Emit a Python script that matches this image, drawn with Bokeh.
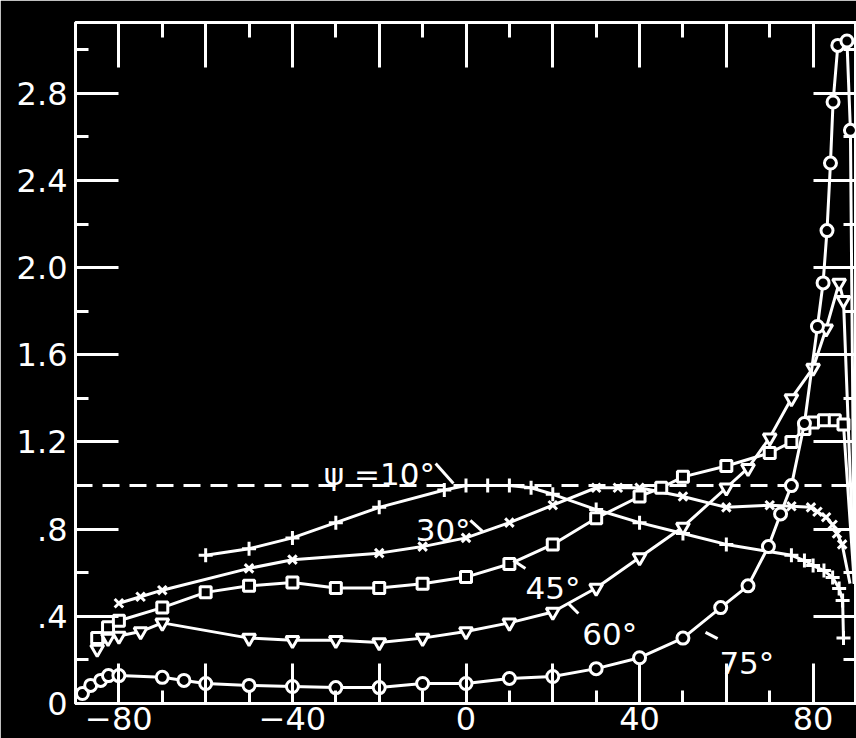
from bokeh.plotting import figure
from bokeh.models import LinearAxis, FixedTicker, Range1d, Label
from bokeh.embed import file_html
from bokeh.resources import INLINE

FONT = "DejaVu Sans"
INK = "white"

# Relative intensity versus angle (degrees) for each value of psi
ang_10 = [-60, -50, -40, -30, -20, -5, 0, 5, 10, 15, 20, 30, 40, 50, 60, 75, 78, 80, 82.5, 84.5, 86, 86.8, 87]
val_10 = [0.68, 0.71, 0.76, 0.83, 0.90, 0.98, 1.0, 1.0, 1.0, 0.99, 0.96, 0.89, 0.83, 0.78, 0.73, 0.68, 0.656, 0.633, 0.61, 0.578, 0.528, 0.473, 0.30]

ang_30 = [-80, -75, -70, -50, -40, -20, -10, 0, 10, 20, 30, 35, 40, 50, 60, 70, 75, 79.5, 81, 83, 84.5, 85.5, 86.7, 88.5]
val_30 = [0.46, 0.49, 0.52, 0.62, 0.66, 0.69, 0.72, 0.76, 0.83, 0.91, 0.99, 0.99, 0.99, 0.95, 0.90, 0.91, 0.905, 0.90, 0.88, 0.855, 0.82, 0.78, 0.73, 0.55]

ang_45 = [-85, -82.5, -80, -70, -60, -50, -40, -30, -20, -10, 0, 10, 20, 30, 40, 45, 50, 60, 70, 75, 78, 80, 82.5, 85, 87, 89.5]
val_45 = [0.30, 0.35, 0.38, 0.44, 0.51, 0.54, 0.555, 0.53, 0.53, 0.55, 0.58, 0.64, 0.73, 0.85, 0.95, 0.99, 1.04, 1.09, 1.15, 1.20, 1.26, 1.29, 1.30, 1.30, 1.28, 0.55]

ang_60 = [-85, -82.5, -80, -75, -70, -50, -40, -30, -20, -10, 0, 10, 20, 30, 40, 50, 60, 65, 70, 75, 80, 83, 86, 87, 89.5]
val_60 = [0.25, 0.30, 0.31, 0.33, 0.37, 0.30, 0.29, 0.29, 0.28, 0.30, 0.33, 0.37, 0.42, 0.53, 0.67, 0.81, 0.99, 1.08, 1.22, 1.40, 1.54, 1.72, 1.93, 1.85, 0.55]

ang_75 = [-88.4, -86.5, -84.2, -82.4, -80, -70, -65, -60, -50, -40, -30, -20, -10, 0, 10, 20, 30, 40, 50, 58.7, 65, 69.7, 72.5, 75, 78, 81, 82.3, 83.2, 84, 84.6, 85.7, 87.8, 88.6, 89.5]
val_75 = [0.046, 0.083, 0.106, 0.128, 0.128, 0.12, 0.106, 0.092, 0.083, 0.078, 0.073, 0.073, 0.092, 0.092, 0.115, 0.124, 0.16, 0.21, 0.30, 0.44, 0.54, 0.72, 0.87, 1.00, 1.285, 1.73, 1.93, 2.17, 2.48, 2.76, 3.02, 3.04, 2.63, 0.55]

y_major = [0, 0.4, 0.8, 1.2, 1.6, 2.0, 2.4, 2.8]
y_minor = [0.2, 0.6, 1.0, 1.4, 1.8, 2.2, 2.6, 3.0]
y_labels = ["0", ".4", ".8", "1.2", "1.6", "2.0", "2.4", "2.8"]
x_major = [-80, -60, -40, -20, 0, 20, 40, 60, 80]
x_minor = [-70, -50, -30, -10, 10, 30, 50, 70]
x_labels = {-80: "\u221280", -60: "", -40: "\u221240", -20: "", 0: "0", 20: "", 40: "40", 60: "", 80: "80"}
reference_level = 1.0

p = figure(width=856, height=738, x_range=Range1d(-90, 90), y_range=Range1d(0, 3.125),
           output_backend="svg", toolbar_location=None,
           min_border_left=75, min_border_right=0, min_border_top=22, min_border_bottom=35,
           background_fill_color="black", border_fill_color="black",
           outline_line_color=INK, outline_line_width=3,
           x_axis_location=None, y_axis_location=None)
p.grid.visible = False

def style_axis(ax, ticker, long_tick, short_tick, labels=None, font_px=0):
    ax.ticker = ticker
    ax.axis_line_color = INK
    ax.axis_line_width = 3
    ax.major_tick_line_color = INK
    ax.minor_tick_line_color = INK
    ax.major_tick_line_width = 3
    ax.minor_tick_line_width = 3
    ax.major_tick_in = long_tick
    ax.major_tick_out = 0
    ax.minor_tick_in = short_tick
    ax.minor_tick_out = 0
    ax.major_label_text_color = INK
    ax.major_label_text_font = FONT
    ax.major_label_text_font_size = f"{font_px}px"
    if labels is not None:
        ax.major_label_overrides = labels
    return ax

yt = FixedTicker(ticks=y_major, minor_ticks=y_minor)
xt = FixedTicker(ticks=x_major, minor_ticks=x_minor)

left = style_axis(LinearAxis(), yt, 43, 13, {v: s for v, s in zip(y_major, y_labels)}, 32)
left.major_label_standoff = 8
p.add_layout(left, "left")

bottom = style_axis(LinearAxis(), xt, 40, 13, x_labels, 32)
bottom.major_label_standoff = 3
p.add_layout(bottom, "below")

top = style_axis(LinearAxis(), FixedTicker(ticks=x_major, minor_ticks=x_minor), 45, 15, None, 0)
top.major_label_standoff = 0
top.major_label_overrides = {v: "" for v in x_major}
p.add_layout(top, "above")

right = style_axis(LinearAxis(), FixedTicker(ticks=y_major, minor_ticks=y_minor), 43, 13, None, 0)
right.major_label_standoff = 0
right.major_label_overrides = {v: "" for v in y_major}
p.add_layout(right, "right")

# reference level
p.line([-90, 90], [reference_level, reference_level], line_color=INK, line_width=3, line_dash="17 10")

LW = 3
p.line(ang_10, val_10, line_color=INK, line_width=LW)
p.scatter(ang_10, val_10, marker="cross", size=14, line_color=INK, line_width=3)

p.line(ang_30, val_30, line_color=INK, line_width=LW)
p.scatter(ang_30[:-1], val_30[:-1], marker="x", size=12, line_color=INK, line_width=3)

p.line(ang_45, val_45, line_color=INK, line_width=LW)
p.scatter(ang_45[:-1], val_45[:-1], marker="square", size=11, fill_color="black", line_color=INK, line_width=3)

p.line(ang_60, val_60, line_color=INK, line_width=LW)
p.scatter(ang_60[:-1], val_60[:-1], marker="inverted_triangle", size=13, fill_color="black", line_color=INK, line_width=3)

p.line(ang_75, val_75, line_color=INK, line_width=LW)
p.scatter(ang_75[:-1], val_75[:-1], marker="circle", size=12, fill_color="black", line_color=INK, line_width=3)

# curve labels and their leader ticks
curve_labels = [("\u03c8 =10\u00b0", -32.8, 1.055), ("30\u00b0", -11.6, 0.794), ("45\u00b0", 13.7, 0.528),
                ("60\u00b0", 26.8, 0.321), ("75\u00b0", 58.4, 0.188)]
for txt, lx, ly in curve_labels:
    p.add_layout(Label(x=lx, y=ly, text=txt, text_color=INK, text_font=FONT,
                       text_font_size="31px", text_baseline="alphabetic"))

lead_x0 = [-7.0, 1.0, 10.9, 23.6, 55.2]
lead_y0 = [1.101, 0.84, 0.656, 0.459, 0.326]
lead_x1 = [-2.9, 3.8, 13.7, 25.9, 58.0]
lead_y1 = [1.010, 0.79, 0.62, 0.413, 0.298]
p.segment(lead_x0, lead_y0, lead_x1, lead_y1, line_color=INK, line_width=3)

open("out.html", "w").write(file_html(p, INLINE))
